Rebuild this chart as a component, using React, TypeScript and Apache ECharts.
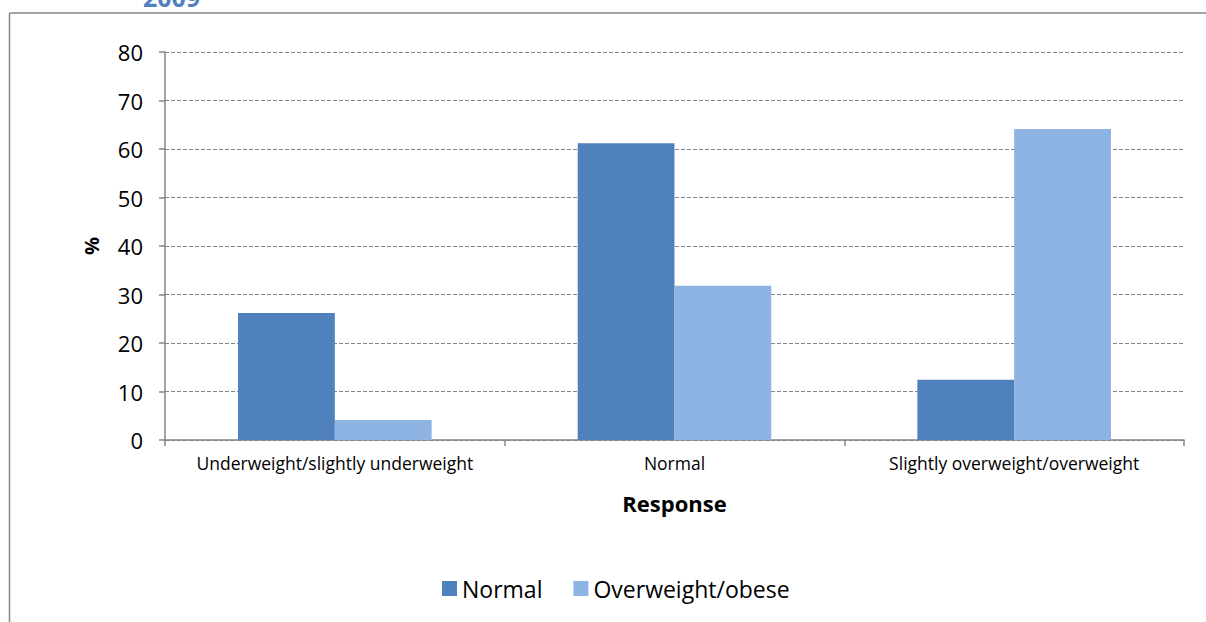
import React, { useEffect, useRef } from "react";
import * as echarts from "echarts";

const categories = [
  "Underweight/slightly underweight",
  "Normal",
  "Slightly overweight/overweight",
];
const normalWeight = [26.2, 61.2, 12.4];
const overweightObese = [4.1, 31.8, 64.1];
const yTicks = { min: 0, max: 80, interval: 10 };

const FONT = "'Open Sans', sans-serif";
const GREY = "#868686";

export default function App() {
  const ref = useRef<HTMLDivElement>(null);

  useEffect(() => {
    document.body.style.margin = "0";
    const chart = echarts.init(ref.current!, null, { renderer: "svg" });
    chart.setOption({
      animation: false,
      textStyle: { fontFamily: FONT },
      grid: { left: 165, right: 22, top: 52, bottom: 182 },
      graphic: [
        {
          type: "line",
          shape: { x1: 9.5, y1: 13, x2: 1206, y2: 13 },
          style: { stroke: GREY, lineWidth: 1.5 },
        },
        {
          type: "line",
          shape: { x1: 9.5, y1: 13, x2: 9.5, y2: 622 },
          style: { stroke: GREY, lineWidth: 1.5 },
        },
        {
          type: "text",
          x: 143,
          y: -3,
          style: {
            text: "2009",
            fill: "#4F81BD",
            font: `bold 25px ${FONT}`,
            verticalAlign: "middle",
          },
        },
      ],
      legend: {
        bottom: 17,
        left: 437,
        itemWidth: 15,
        itemHeight: 15,
        itemGap: 31,
        icon: "rect",
        textStyle: { fontSize: 23, color: "#000", fontFamily: FONT },
        data: ["Normal", "Overweight/obese"],
      },
      xAxis: {
        type: "category",
        data: categories,
        name: "Response",
        nameLocation: "middle",
        nameGap: 52,
        nameTextStyle: { fontSize: 22, fontWeight: "bold", color: "#000" },
        axisLine: { lineStyle: { color: GREY, width: 1.5 } },
        axisTick: { show: true, length: 6, lineStyle: { color: GREY, width: 1.5 } },
        axisLabel: {
          fontSize: 17.5,
          color: "#000",
          margin: 14,
          interval: 0,
          hideOverlap: false,
        },
      },
      yAxis: {
        type: "value",
        min: yTicks.min,
        max: yTicks.max,
        interval: yTicks.interval,
        name: "%",
        nameLocation: "middle",
        nameGap: 64,
        nameRotate: 90,
        nameTextStyle: { fontSize: 20, fontWeight: "bold", color: "#000" },
        axisLine: { show: true, lineStyle: { color: GREY, width: 1.5 } },
        axisTick: { show: true, length: 6, lineStyle: { color: GREY, width: 1.5 } },
        axisLabel: { fontSize: 22, color: "#000", margin: 22 },
        splitLine: { lineStyle: { color: GREY, type: [4, 2], width: 1 } },
      },
      series: [
        {
          name: "Normal",
          type: "bar",
          data: normalWeight,
          barGap: "0%",
          barCategoryGap: "43%",
          itemStyle: { color: "#4F81BD" },
        },
        {
          name: "Overweight/obese",
          type: "bar",
          data: overweightObese,
          itemStyle: { color: "#8EB4E3" },
        },
      ],
    });
    return () => chart.dispose();
  }, []);

  return <div ref={ref} style={{ width: 1206, height: 622 }} />;
}
